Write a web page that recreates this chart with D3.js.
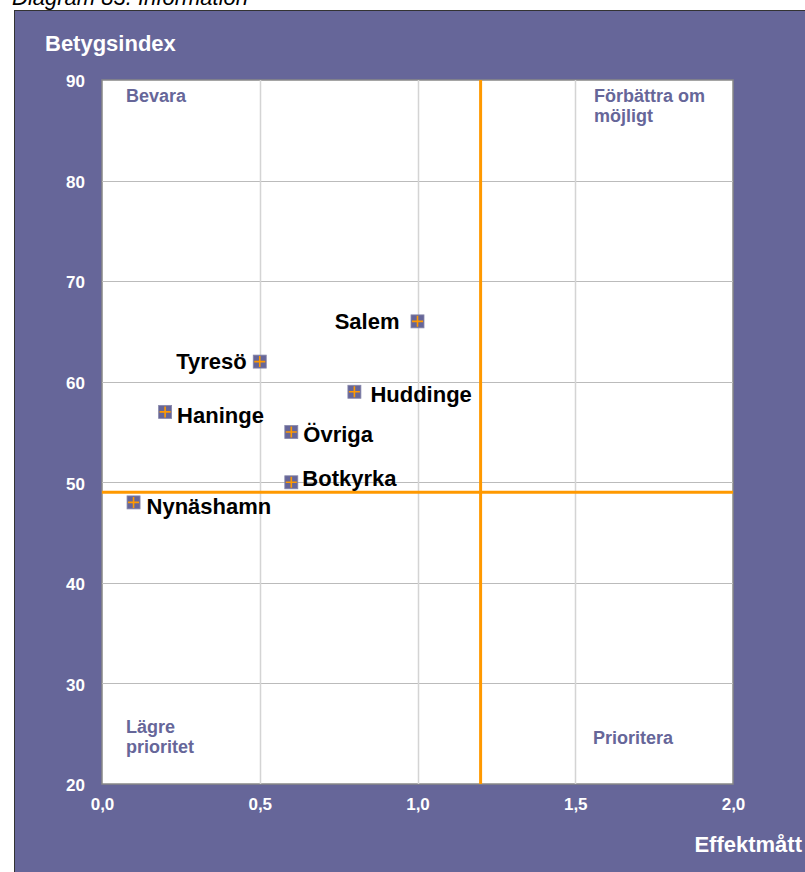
<!DOCTYPE html>
<html><head><meta charset="utf-8">
<script src="https://cdn.jsdelivr.net/npm/d3@7"></script>
<style>body{margin:0;background:#fff}svg{display:block}</style>
</head><body>
<svg id="c" width="805" height="872"></svg>
<script>
const names = ["Salem","Tyresö","Huddinge","Haninge","Övriga","Botkyrka","Nynäshamn"];
const effekt = [1.0,0.5,0.8,0.2,0.6,0.6,0.1];
const betyg = [66,62,59,57,55,50,48];
const xTicks = [0,0.5,1.0,1.5,2.0];
const yTicks = [20,30,40,50,60,70,80,90];
const refX = 1.2, refY = 49;
const quadrantTexts = [["Bevara"],["Förbättra om","möjligt"],["Lägre","prioritet"],["Prioritera"]];

// layout (not data)
const labelPos = {
  "Salem":[-18,8,"end"], "Tyresö":[-13,7,"end"], "Huddinge":[16,10,"start"],
  "Haninge":[12,11,"start"], "Övriga":[12,10,"start"], "Botkyrka":[11,4,"start"],
  "Nynäshamn":[13,12,"start"]
};
const quadPos = [[126,102],[594,102],[126,733],[593,744]];

const F = "Arial, 'Liberation Sans', sans-serif";
const svg = d3.select("#c");
const purple = "#666699";
svg.append("text").attr("x",12).attr("y",5).attr("font-family",F)
  .attr("font-style","italic").attr("font-size",22).attr("fill","#000").text("Diagram 83. Information");
svg.append("rect").attr("x",14.5).attr("y",10.5).attr("width",800).attr("height",870)
  .attr("fill",purple).attr("stroke","#333").attr("stroke-width",1);

const x = d3.scaleLinear().domain([0,2]).range([102,733]);
const y = d3.scaleLinear().domain([20,90]).range([784,80]);

svg.append("rect").attr("x",x(0)).attr("y",y(90)).attr("width",x(2)-x(0)).attr("height",y(20)-y(90))
  .attr("fill","#fff").attr("stroke","#888").attr("stroke-width",1.5);

const g = svg.append("g");
g.selectAll(".gy").data(yTicks.slice(1,-1)).join("line")
  .attr("x1",x(0)).attr("x2",x(2)).attr("y1",d=>Math.round(y(d))+0.5).attr("y2",d=>Math.round(y(d))+0.5)
  .attr("stroke","#bbb").attr("stroke-width",1.2);
g.selectAll(".gx").data(xTicks.slice(1,-1)).join("line")
  .attr("y1",y(90)).attr("y2",y(20)).attr("x1",d=>Math.round(x(d))+0.5).attr("x2",d=>Math.round(x(d))+0.5)
  .attr("stroke","#d4d4d4").attr("stroke-width",1.5);

// axes via d3
const fmt = d => d.toFixed(1).replace(".",",");
const yAxis = d3.axisLeft(y).tickValues(yTicks).tickSize(0).tickPadding(17);
const xAxis = d3.axisBottom(x).tickValues(xTicks).tickSize(0).tickPadding(14).tickFormat(fmt);
const ya = svg.append("g").attr("transform",`translate(${x(0)},0)`).call(yAxis);
const xa = svg.append("g").attr("transform",`translate(0,${y(20)})`).call(xAxis);
[ya,xa].forEach(a=>{a.select(".domain").remove();
  a.selectAll("text").attr("fill","#fff").attr("font-family",F)
   .attr("font-weight","bold").attr("font-size",17);});
ya.selectAll("text").attr("dy","0.4em");

// reference lines
g.append("line").attr("x1",x(refX)).attr("x2",x(refX)).attr("y1",y(90)).attr("y2",y(20))
  .attr("stroke","#ff9900").attr("stroke-width",3);
g.append("line").attr("x1",x(0)).attr("x2",x(2)).attr("y1",y(refY)).attr("y2",y(refY))
  .attr("stroke","#ff9900").attr("stroke-width",3);

// quadrant labels
quadrantTexts.forEach((q,k)=>{
  const [qx,qy] = quadPos[k];
  const t = g.append("text").attr("x",qx).attr("y",qy)
   .attr("font-family",F).attr("font-weight","bold").attr("font-size",18).attr("fill",purple);
  q.forEach((s,i)=>t.append("tspan").attr("x",qx).attr("dy",i?20:0).text(s));
});

// points
const data = names.map((n,i)=>({n, x:effekt[i], y:betyg[i]}));
const pts = g.selectAll(".p").data(data).join("g").attr("transform",d=>`translate(${x(d.x)},${y(d.y)})`);
pts.append("rect").attr("x",-6.5).attr("y",-6.5).attr("width",13).attr("height",13)
  .attr("fill",purple).attr("stroke","#8888aa").attr("stroke-width",0.8);
pts.append("path").attr("d","M-5.5,0H5.5M0,-5.5V5.5").attr("stroke","#ff9900").attr("stroke-width",1.6);
pts.append("text").attr("x",d=>labelPos[d.n][0]).attr("y",d=>labelPos[d.n][1])
  .attr("text-anchor",d=>labelPos[d.n][2])
  .attr("font-family",F).attr("font-weight","bold").attr("font-size",22)
  .attr("fill","#000").text(d=>d.n);

// axis titles
svg.append("text").attr("x",45).attr("y",51).attr("font-family",F)
  .attr("font-weight","bold").attr("font-size",22).attr("fill","#fff").text("Betygsindex");
svg.append("text").attr("x",802).attr("y",852).attr("text-anchor","end").attr("font-family",F)
  .attr("font-weight","bold").attr("font-size",22).attr("fill","#fff").text("Effektmått");
</script>
</body></html>
